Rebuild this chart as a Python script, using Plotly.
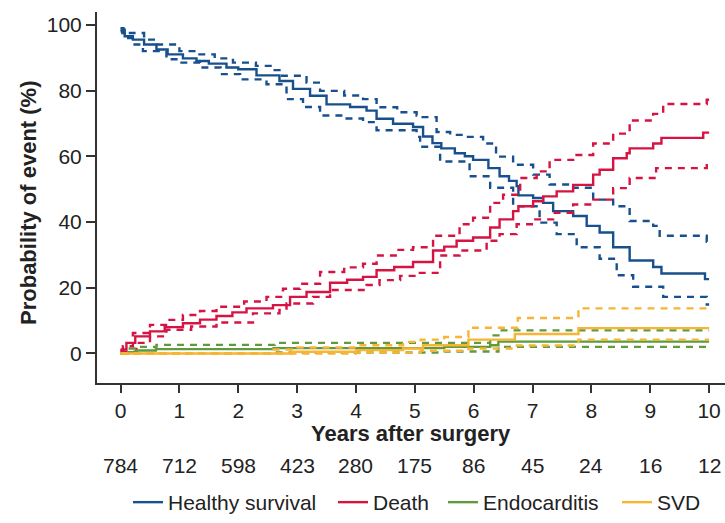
import plotly.graph_objects as go

# ---------------- data ----------------
hs_t = [0, 0.03, 0.07, 0.21, 0.4, 0.61, 0.8, 1.06, 1.29, 1.5, 1.8, 2.0, 2.31, 2.7, 2.93, 3.22, 3.5, 3.9, 4.18, 4.35, 4.63, 4.97, 5.14, 5.3, 5.45, 5.68, 5.85, 5.99, 6.25, 6.44, 6.6, 6.73, 6.76, 7.01, 7.18, 7.35, 7.69, 7.92, 8.14, 8.37, 8.65, 9.05, 9.19, 9.93, 10.0]
hs_v = [98.5, 97.5, 96.5, 95.5, 94, 92.5, 91, 89.8, 89, 88.2, 87, 86.5, 84.6, 82.9, 80.5, 78.4, 75.8, 75, 73.9, 71.4, 69.9, 68.9, 66, 64, 62.4, 60.9, 60, 58.9, 56.4, 53.9, 52.5, 50.9, 48.1, 47.3, 45.8, 43.3, 41.8, 38.8, 36.8, 32.3, 28.3, 26.3, 24.3, 22.6, 22.6]
hs_up_t = [0, 0.05, 0.16, 0.4, 0.61, 1.0, 1.29, 1.6, 1.91, 2.3, 2.59, 2.7, 3.16, 3.39, 3.8, 4.12, 4.35, 4.7, 5.03, 5.09, 5.37, 5.6, 5.88, 6.16, 6.38, 6.67, 7.01, 7.29, 7.69, 8.03, 8.37, 8.65, 9.05, 9.16, 9.96, 10.0]
hs_up_v = [99, 98.5, 97.5, 95.5, 94, 92, 91, 89.8, 88.5, 87.5, 86.2, 84.5, 82.4, 79.9, 78.5, 77.4, 74.9, 73.4, 72.4, 71.9, 67.4, 66.5, 65.9, 63.9, 59.9, 57.4, 54.4, 51.4, 50.4, 46.8, 44.8, 40.3, 38.8, 35.8, 34, 34]
hs_lo_t = [0, 0.07, 0.2, 0.38, 0.78, 1.0, 1.35, 1.7, 2.03, 2.48, 2.82, 3.1, 3.39, 3.8, 4.12, 4.35, 5.03, 5.09, 5.43, 5.93, 6.28, 6.67, 7.12, 7.41, 7.75, 8.14, 8.43, 8.71, 9.22, 9.96, 10.0]
hs_lo_v = [98, 96, 94, 92, 89.5, 88.5, 87, 85, 83.4, 81.9, 77.4, 75, 72.4, 71.5, 70.4, 67.9, 65.9, 62.9, 58.4, 53.9, 50.4, 44.8, 39.8, 36.3, 32.3, 28.8, 23.8, 20.3, 17.2, 14.9, 14.9]

death_t = [0, 0.02, 0.1, 0.25, 0.5, 0.75, 1.06, 1.35, 1.63, 1.9, 2.14, 2.59, 2.88, 3.16, 3.56, 3.85, 4.12, 4.35, 4.65, 4.97, 5.31, 5.5, 5.71, 5.99, 6.28, 6.44, 6.67, 6.76, 7.01, 7.18, 7.41, 7.69, 8.03, 8.14, 8.37, 8.6, 8.65, 9.05, 9.19, 9.9, 10.0]
death_v = [0.8, 1.2, 3.2, 5.2, 6.7, 8, 9.2, 10.3, 11.4, 12.5, 13.7, 14.7, 17.2, 18.7, 21.5, 22.4, 23.3, 25.3, 26.3, 27.8, 31.3, 32.5, 34.3, 35.3, 38.3, 40.8, 43.3, 44.8, 46.3, 47.8, 49.3, 51.3, 54.4, 55.9, 59.4, 60.9, 62.4, 63.9, 65.6, 67.2, 67.2]
death_up_t = [0, 0.04, 0.21, 0.5, 0.8, 1.06, 1.35, 1.63, 2.1, 2.48, 2.76, 3.05, 3.39, 3.8, 4.12, 4.35, 4.7, 4.97, 5.31, 5.76, 5.99, 6.28, 6.5, 6.79, 7.07, 7.29, 7.69, 8.03, 8.37, 8.65, 9.05, 9.22, 9.96, 10.0]
death_up_v = [1, 2.2, 6.2, 8.7, 10.2, 11.7, 12.9, 14.2, 15.8, 17.2, 19.7, 21.2, 24.8, 26.2, 27.3, 29.8, 31.5, 32.3, 35.8, 39.3, 41.3, 45.8, 48.3, 53.4, 55.4, 58.9, 60.4, 63.9, 66.9, 70.9, 72.9, 75.9, 77.2, 77.2]
death_lo_t = [0, 0.04, 0.27, 0.5, 0.78, 1.2, 1.63, 2.25, 2.7, 2.82, 3.27, 3.56, 4.18, 4.4, 4.75, 5.03, 5.43, 5.76, 6.22, 6.44, 6.73, 7.01, 7.35, 7.69, 8.03, 8.37, 8.65, 9.1, 9.96, 10.0]
death_lo_v = [0.5, 0.5, 3.2, 5.2, 7.2, 8.2, 9.4, 12.2, 13.2, 15.2, 17.2, 19.3, 20.8, 22.3, 23.6, 24.5, 29.8, 31.3, 34.3, 36.3, 39.3, 40.8, 42.8, 45.3, 46.8, 50.3, 53.4, 56.4, 58.4, 58.4]

endo_t = [0, 0.13, 0.27, 0.6, 2.6, 5.5, 6.28, 6.42, 10.0]
endo_v = [0, 0.4, 0.9, 1.3, 1.6, 2.0, 2.5, 3.6, 3.6]
endo_up_t = [0, 0.13, 0.27, 0.61, 2.62, 6.28, 6.42, 10.0]
endo_up_v = [0, 1.5, 2.0, 2.6, 3.2, 5.5, 7.0, 7.0]
endo_lo_t = [0, 2.6, 5.5, 6.42, 10.0]
endo_lo_v = [0, 0.3, 0.6, 2.0, 2.0]

svd_t = [0, 2.9, 4.0, 4.8, 5.14, 5.91, 6.70, 7.78, 10.0]
svd_v = [0, 0.5, 1.0, 1.5, 2.5, 4.2, 5.9, 7.7, 7.7]
svd_up_t = [0, 2.6, 3.0, 4.0, 4.8, 5.1, 5.5, 5.91, 6.75, 7.78, 10.0]
svd_up_v = [0, 1.2, 1.8, 2.5, 3.5, 4.2, 5.0, 7.8, 10.8, 13.7, 13.7]
svd_lo_t = [0, 4.0, 5.1, 5.91, 6.70, 7.78, 10.0]
svd_lo_v = [0, 0.3, 0.8, 1.5, 2.4, 4.2, 4.2]

risk_years = [0, 1, 2, 3, 4, 5, 6, 7, 8, 9, 10]
at_risk = [784, 712, 598, 423, 280, 175, 86, 45, 24, 16, 12]
y_ticks = [0, 20, 40, 60, 80, 100]

names = ["Healthy survival", "Death", "Endocarditis", "SVD"]
colors = ["#17508c", "#d51443", "#5f9b3b", "#f7b435"]
legend_ids = ["legend", "legend2", "legend3", "legend4"]
legend_x = [0.0494, 0.3758, 0.551, 0.828]

series = [
    (hs_t, hs_v, hs_up_t, hs_up_v, hs_lo_t, hs_lo_v),
    (death_t, death_v, death_up_t, death_up_v, death_lo_t, death_lo_v),
    (endo_t, endo_v, endo_up_t, endo_up_v, endo_lo_t, endo_lo_v),
    (svd_t, svd_v, svd_up_t, svd_up_v, svd_lo_t, svd_lo_v),
]

FONT = "Liberation Sans, Arial, sans-serif"
TXT = "#222222"

fig = go.Figure()
for name, col, lid, (t, v, ut, uv, lt, lv) in zip(names, colors, legend_ids, series):
    for xx, yy in ((ut, uv), (lt, lv)):
        fig.add_trace(go.Scatter(x=xx, y=yy, mode="lines", line_shape="hv",
                                 line=dict(color=col, width=2.4, dash="7px,6px"),
                                 showlegend=False, hoverinfo="skip"))
    fig.add_trace(go.Scatter(x=t, y=v, mode="lines", line_shape="hv", name=name,
                             legend=lid, line=dict(color=col, width=2.4)))

fig.update_xaxes(range=[-0.4, 10.27], tickvals=risk_years, showgrid=False, zeroline=False,
                 showline=True, linecolor="#333333", linewidth=2,
                 ticks="outside", ticklen=8, tickwidth=2, tickcolor="#333333",
                 tickfont=dict(family=FONT, size=21, color=TXT))
fig.update_yaxes(range=[-9, 103.9], tickvals=y_ticks, showgrid=False, zeroline=False,
                 showline=True, linecolor="#333333", linewidth=2,
                 ticks="outside", ticklen=9, tickwidth=2, tickcolor="#333333",
                 tickfont=dict(family=FONT, size=21, color=TXT))

fig.add_annotation(text="<b>Years after surgery</b>", xref="paper", yref="paper",
                   x=0.5, y=-0.135, xanchor="center", yanchor="middle", showarrow=False,
                   font=dict(family=FONT, size=22, color=TXT))
fig.add_annotation(text="<b>Probability of event (%)</b>", xref="paper", yref="paper",
                   x=-0.11, y=0.485, xanchor="center", yanchor="middle", showarrow=False,
                   textangle=-90, font=dict(family=FONT, size=22, color=TXT))
for yr, n in zip(risk_years, at_risk):
    fig.add_annotation(text=str(n), x=yr, xref="x", yref="paper", y=-0.222,
                       xanchor="center", yanchor="middle", showarrow=False,
                       font=dict(family=FONT, size=21, color=TXT))

legend_common = dict(orientation="h", y=-0.323, yanchor="middle", xanchor="left",
                     font=dict(family=FONT, size=21, color=TXT),
                     bgcolor="rgba(0,0,0,0)", itemwidth=30)
layout_legends = {lid: dict(x=lx, **legend_common) for lid, lx in zip(legend_ids, legend_x)}

fig.update_layout(
    width=725, height=523,
    margin=dict(l=97, r=0, t=12, b=136),
    paper_bgcolor="white", plot_bgcolor="white",
    showlegend=True,
    **layout_legends,
)

fig.write_html("out.html")
